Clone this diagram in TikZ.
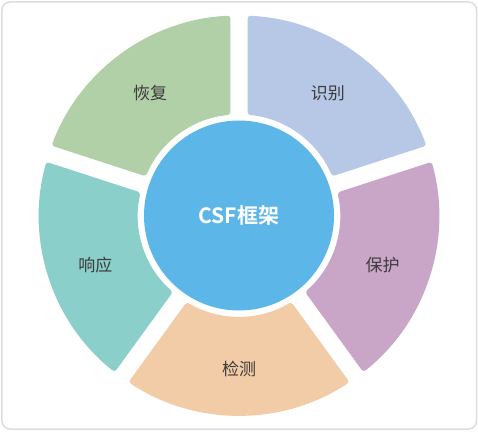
\documentclass[tikz,border=0pt]{standalone}
\usepackage{fontspec}
\setmainfont{Noto Sans CJK SC}[BoldFont={Noto Sans CJK SC Bold}]
\definecolor{cShi}{HTML}{B6C8E6}
\definecolor{cBao}{HTML}{C9A5C8}
\definecolor{cJian}{HTML}{F1CCA6}
\definecolor{cXiang}{HTML}{8BCFCA}
\definecolor{cHui}{HTML}{B2D0A7}
\definecolor{cCore}{HTML}{5CB6E7}
\definecolor{cTxt}{HTML}{3C3C3C}
\definecolor{cFrame}{HTML}{DDDDDD}
\newcommand\cfseg[2]{%
  \pgfmathsetmacro\oa{#1-36+2.44}%
  \pgfmathsetmacro\ob{#1+36-2.44}%
  \pgfmathsetmacro\ia{#1-36+4.83}%
  \pgfmathsetmacro\ib{#1+36-4.83}%
  \fill[#2, rounded corners=3] (\oa:200) arc[start angle=\oa, end angle=\ob, radius=200]
    -- (\ib:101) arc[start angle=\ib, end angle=\ia, radius=101] -- cycle;}
\begin{document}
\begin{tikzpicture}[x=1pt,y=1pt,
  seglabel/.style={text=cTxt, font=\fontsize{17}{17}\selectfont, inner sep=0},
  corelabel/.style={text=white, font=\bfseries\fontsize{21}{21}\selectfont, inner sep=0}]
\useasboundingbox (-239,-215.5) rectangle (239,215.5);
\draw[cFrame, line width=1.5, rounded corners=8] (-237,-213.5) rectangle (237.5,213.5);
\cfseg{54}{cShi}
\cfseg{-18}{cBao}
\cfseg{-90}{cJian}
\cfseg{198}{cXiang}
\cfseg{126}{cHui}
\node[circle, fill=cCore, minimum size=190, inner sep=0] (core) at (0,0) {};
\node[corelabel] (coretext) at (0,0) {CSF框架};
\node[seglabel] (shibie) at (54:151) {识别};
\node[seglabel] (baohu) at (-19:152) {保护};
\node[seglabel] (jiance) at (-90:153) {检测};
\node[seglabel] (xiangying) at (199:152) {响应};
\node[seglabel] (huifu) at (126:151) {恢复};
\end{tikzpicture}
\end{document}
